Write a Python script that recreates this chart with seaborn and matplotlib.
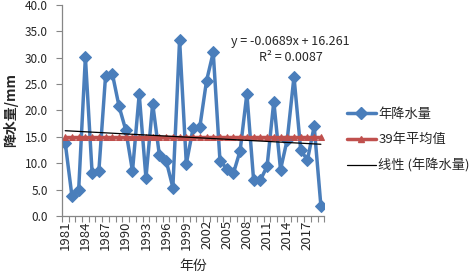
import numpy as np
import pandas as pd
import seaborn as sns
import matplotlib.pyplot as plt
from matplotlib.lines import Line2D

# 年降水量 1981-2019 (mm)
years = list(range(1981, 2020))
precip = [13.9, 3.8, 4.9, 30.1, 8.1, 8.5, 26.6, 27.0, 20.8, 16.3,
          8.5, 23.1, 7.2, 21.3, 11.5, 10.5, 5.4, 33.4, 9.9, 16.6,
          16.8, 25.6, 31.0, 10.5, 9.0, 8.1, 12.4, 23.2, 6.8, 6.8,
          9.4, 21.7, 8.8, 14.5, 26.4, 12.5, 10.6, 17.0, 1.9]
tick_years = years[::3]

df = pd.DataFrame({"idx": np.arange(1, len(years) + 1), "year": years, "precip": precip})
df["mean"] = df["precip"].mean()

sns.set_style("white")
plt.rcParams["font.family"] = ["Noto Sans CJK SC", "DejaVu Sans"]

blue = "#4A7EBB"
red = "#C0504D"

fig = plt.figure(figsize=(4.72, 2.75), dpi=100)
ax = fig.add_axes([0.131, 0.2145, 0.556, 0.7675])

sns.lineplot(data=df, x="idx", y="precip", ax=ax, color=blue, lw=2.5,
             marker="D", markersize=6, markeredgecolor=blue)
sns.lineplot(data=df, x="idx", y="mean", ax=ax, color=red, lw=2.5,
             marker="^", markersize=5, markeredgecolor=red)
sns.regplot(data=df, x="idx", y="precip", ax=ax, scatter=False, ci=None,
            line_kws={"color": "black", "lw": 0.9})

ax.set_xlim(0.5, len(years) + 0.5)
ax.set_ylim(0, 40)
ax.set_yticks(np.arange(0, 41, 5))
ax.set_yticklabels([f"{v:.1f}" for v in np.arange(0, 41, 5)], fontsize=8.5)
ax.set_xticks([years.index(y) + 1 for y in tick_years])
ax.set_xticklabels([str(y) for y in tick_years], rotation=90, fontsize=9.5)
ax.set_xticks(np.arange(0.5, len(years) + 1), minor=True)
ax.tick_params(axis="x", which="major", length=0, pad=3)
ax.tick_params(axis="x", which="minor", length=4, width=0.8, color="#868686", bottom=True)
ax.tick_params(axis="y", length=4, width=0.8, color="#868686", left=True, pad=6)

for s in ["top", "right"]:
    ax.spines[s].set_visible(False)
for s in ["left", "bottom"]:
    ax.spines[s].set_color("#868686")
    ax.spines[s].set_linewidth(0.9)

ax.set_xlabel("年份", fontsize=10, labelpad=7)
ax.set_ylabel("降水量/mm", fontsize=10, fontweight="bold", labelpad=5)

ax.text(34.5, 33.1, "y = -0.0689x + 16.261", ha="center", va="center", fontsize=9)
ax.text(34.5, 30.0, "R² = 0.0087", ha="center", va="center", fontsize=9)

handles = [
    Line2D([], [], color=blue, lw=2.5, marker="D", markersize=6),
    Line2D([], [], color=red, lw=2.5, marker="^", markersize=5),
    Line2D([], [], color="black", lw=0.9),
]
labels = ["年降水量", "39年平均值", "线性 (年降水量)"]
fig.legend(handles, labels, loc="center left", bbox_to_anchor=(0.723, 0.49),
           frameon=False, fontsize=9.5, handlelength=2.2, labelspacing=0.95,
           handletextpad=0.2, borderaxespad=0)

fig.savefig("out.png", dpi=100)
